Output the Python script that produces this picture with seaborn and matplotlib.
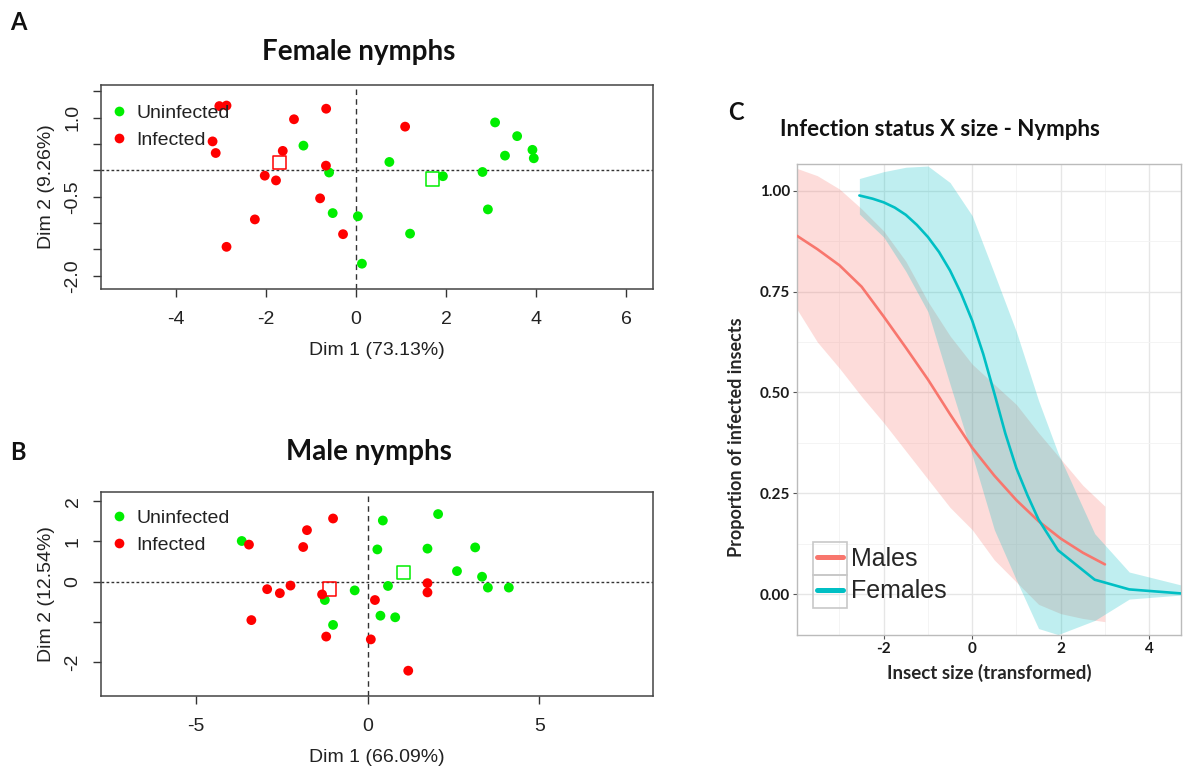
import numpy as np
import pandas as pd
import seaborn as sns
import matplotlib
matplotlib.use("Agg")
import matplotlib.pyplot as plt
from matplotlib.lines import Line2D
from matplotlib.patches import Rectangle
from matplotlib import font_manager as fm

# ---------------- DATA ----------------
# Panel A: Female nymphs PCA
fem_status = ["Uninfected"] * 15 + ["Infected"] * 15
fem_dim1 = [-1.17, -0.60, 0.74, -0.52, 0.04, 1.20, 0.13, 1.93, 2.81, 3.09, 3.58, 3.31, 3.92, 3.95, 2.93,
            -3.04, -2.88, -0.665, -1.38, 1.09, -3.19, -3.12, -1.63, -0.67, -2.03, -1.78, -0.80, -2.25, -0.29, -2.88]
fem_dim2 = [0.47, -0.04, 0.16, -0.81, -0.87, -1.20, -1.77, -0.11, -0.03, 0.91, 0.65, 0.28, 0.39, 0.23, -0.74,
            1.22, 1.23, 1.17, 0.97, 0.83, 0.55, 0.33, 0.37, 0.09, -0.10, -0.19, -0.53, -0.93, -1.21, -1.45]
fem_cent_status = ["Uninfected", "Infected"]
fem_cent_dim1 = [1.70, -1.70]
fem_cent_dim2 = [-0.16, 0.15]

# Panel B: Male nymphs PCA
male_status = ["Uninfected"] * 16 + ["Infected"] * 15
male_dim1 = [-3.67, 0.44, 2.05, 0.28, 1.74, 3.13, 2.60, 3.33, 3.50, 4.11, 0.59, -0.38, -1.25, 0.37, 0.80, -1.01,
             -1.01, -1.77, -3.46, -1.88, -2.93, -2.56, -2.25, -1.33, -3.39, -1.21, 0.21, 0.09, 1.18, 1.74, 1.74]
male_dim2 = [1.01, 1.52, 1.68, 0.80, 0.82, 0.85, 0.26, 0.12, -0.15, -0.15, -0.11, -0.22, -0.46, -0.85, -0.89, -1.08,
             1.57, 1.28, 0.92, 0.86, -0.19, -0.29, -0.10, -0.32, -0.96, -1.37, -0.46, -1.44, -2.22, -0.04, -0.27]
male_cent_status = ["Uninfected", "Infected"]
male_cent_dim1 = [1.04, -1.12]
male_cent_dim2 = [0.22, -0.19]

# Panel C: fitted infection probability vs size
males_x = [-3.96, -3.5, -3.0, -2.5, -2.0, -1.5, -1.0, -0.5, 0.0, 0.5, 1.0, 1.5, 2.0, 2.5, 3.0]
males_fit = [0.888, 0.855, 0.815, 0.762, 0.688, 0.611, 0.532, 0.446, 0.363, 0.294, 0.233, 0.181, 0.138, 0.103, 0.074]
males_hi = [1.055, 1.037, 1.004, 0.955, 0.900, 0.825, 0.725, 0.640, 0.570, 0.520, 0.470, 0.400, 0.335, 0.270, 0.218]
males_lo = [0.706, 0.625, 0.560, 0.490, 0.425, 0.355, 0.285, 0.215, 0.160, 0.085, 0.030, -0.025, -0.048, -0.060, -0.068]

females_x = [-2.55, -2.25, -2.0, -1.75, -1.5, -1.25, -1.0, -0.75, -0.5, -0.25, 0.0, 0.25, 0.5, 0.75,
             1.0, 1.25, 1.5, 1.94, 2.77, 3.55, 4.72]
females_fit = [0.988, 0.980, 0.971, 0.958, 0.940, 0.915, 0.885, 0.848, 0.802, 0.745, 0.678, 0.595, 0.498, 0.398,
               0.312, 0.245, 0.185, 0.109, 0.036, 0.012, 0.002]
females_band_x = [-2.55, -2.0, -1.5, -1.0, -0.5, 0.0, 0.5, 1.0, 1.5, 1.94, 2.77, 3.55, 4.72]
females_hi = [1.030, 1.047, 1.058, 1.061, 1.020, 0.938, 0.795, 0.650, 0.480, 0.350, 0.150, 0.055, 0.023]
females_lo = [0.942, 0.885, 0.800, 0.700, 0.520, 0.345, 0.160, 0.035, -0.085, -0.100, -0.065, -0.012, -0.002]

status_colors = {"Uninfected": "#00EE00", "Infected": "#FF0000"}
sex_colors = {"Males": "#F8766D", "Females": "#00BFC4"}

# ---------------- STYLE ----------------
sns.set_style("white")
plt.rcParams["axes.unicode_minus"] = False
names = {f.name for f in fm.fontManager.ttflist}
narrow = "Liberation Sans Narrow" if "Liberation Sans Narrow" in names else "Liberation Sans"
plt.rcParams["font.family"] = [narrow, "DejaVu Sans"]
BASE = 15 if narrow == "Liberation Sans Narrow" else 14

W, H = 1189, 778
fig = plt.figure(figsize=(W / 100, H / 100), dpi=100)


def fx(px):
    return px / W


def fy(py):
    return 1 - py / H


def axes_px(l, t, r, b):
    return fig.add_axes([fx(l), fy(b), fx(r - l), (b - t) / H])


def pca_panel(ax, d1, d2, status, c1, c2, cstat, xlim, ylim, xticks, yticks, ylabs, xlabel, ylabel, leg_top):
    df = pd.DataFrame({"Dim1": d1, "Dim2": d2, "status": status})
    ax.axhline(0, color="#333333", lw=1.0, ls=(0, (2, 1.6)), zorder=1)
    ax.axvline(0, color="#333333", lw=1.0, ls=(0, (4, 3)), zorder=1)
    sns.scatterplot(data=df, x="Dim1", y="Dim2", hue="status", palette=status_colors,
                    s=50, edgecolor="none", linewidth=0, legend=False, ax=ax, zorder=3)
    ax.scatter(c1, c2, marker="s", s=95, facecolors="none",
               edgecolors=[status_colors[s] for s in cstat], linewidths=1.1, zorder=4)
    ax.set_xlim(*xlim)
    ax.set_ylim(*ylim)
    ax.set_xticks(xticks)
    ax.set_xticklabels([f"{t:g}" for t in xticks])
    ax.set_yticks(yticks)
    ax.set_yticklabels(ylabs, rotation=90, va="center")
    ax.tick_params(axis="both", direction="out", length=6, width=1, color="#333333",
                   labelsize=BASE, labelcolor="#222222", bottom=True, left=True)
    ax.tick_params(axis="x", pad=10)
    ax.tick_params(axis="y", pad=8)
    ax.set_xlabel(xlabel, fontsize=BASE, color="#222222", labelpad=10)
    ax.set_ylabel(ylabel, fontsize=BASE, color="#222222", labelpad=7)
    for s in ax.spines.values():
        s.set_visible(True)
        s.set_color("#444444")
        s.set_linewidth(1.1)
    handles = [Line2D([], [], marker="o", ls="none", color=status_colors[k], markersize=7, markeredgewidth=0)
               for k in ["Uninfected", "Infected"]]
    fig.legend(handles, ["Uninfected", "Infected"], loc="upper left",
               bbox_to_anchor=(fx(111), fy(leg_top)), bbox_transform=fig.transFigure,
               frameon=False, fontsize=BASE, handlelength=0.8, handletextpad=0.5,
               labelspacing=0.5, borderpad=0, borderaxespad=0, labelcolor="#222222")


# ---- Panel A ----
axA = axes_px(101, 85, 653, 289)
pca_panel(axA, fem_dim1, fem_dim2, fem_status, fem_cent_dim1, fem_cent_dim2, fem_cent_status,
          (-5.67, 6.6), (-2.25, 1.62), [-4, -2, 0, 2, 4, 6],
          [-2.0, -1.5, -1.0, -0.5, 0.0, 0.5, 1.0, 1.5],
          ["-2.0", "", "", "-0.5", "", "", "1.0", ""],
          "Dim 1 (73.13%)", "Dim 2 (9.26%)", 104)

# ---- Panel B ----
axB = axes_px(101, 492, 653, 696)
pca_panel(axB, male_dim1, male_dim2, male_status, male_cent_dim1, male_cent_dim2, male_cent_status,
          (-7.77, 8.31), (-2.85, 2.23), [-5, 0, 5],
          [-2, -1, 0, 1, 2], ["-2", "", "0", "1", "2"],
          "Dim 1 (66.09%)", "Dim 2 (12.54%)", 509)

# ---- Panel C ----
axC = axes_px(797, 164, 1181, 635)
axC.set_axisbelow(True)
axC.fill_between(males_x, males_lo, males_hi, color=sex_colors["Males"], alpha=0.25, lw=0, zorder=2)
axC.fill_between(females_band_x, females_lo, females_hi, color=sex_colors["Females"], alpha=0.25, lw=0, zorder=2)
fits = pd.concat([
    pd.DataFrame({"size": males_x, "p": males_fit, "sex": "Males"}),
    pd.DataFrame({"size": females_x, "p": females_fit, "sex": "Females"}),
])
sns.lineplot(data=fits, x="size", y="p", hue="sex", palette=sex_colors, linewidth=1.9,
             estimator=None, sort=False, legend=False, ax=axC, zorder=3)
axC.set_xlim(-3.96, 4.72)
axC.set_ylim(-0.101, 1.066)
axC.set_xticks([-2, 0, 2, 4])
axC.set_xticks([-3, -1, 1, 3], minor=True)
axC.set_yticks([0, 0.25, 0.5, 0.75, 1.0])
axC.set_yticks([0.125, 0.375, 0.625, 0.875], minor=True)
axC.set_yticklabels(["0.00", "0.25", "0.50", "0.75", "1.00"])
axC.set_xticklabels(["-2", "0", "2", "4"])
axC.grid(which="major", color="#E6E6E6", lw=1.0)
axC.grid(which="minor", color="#F3F3F3", lw=0.6)
axC.tick_params(axis="both", which="major", direction="out", length=3, width=0.8, color="#555555",
                labelsize=11, pad=2, bottom=True, left=True)
axC.tick_params(axis="both", which="minor", length=0)
for lab in axC.get_xticklabels() + axC.get_yticklabels():
    lab.set_fontfamily(["Lato", "DejaVu Sans"])
    lab.set_fontweight("bold")
    lab.set_color("#1a1a1a")
for s in axC.spines.values():
    s.set_visible(True)
    s.set_color("#BBBBBB")
    s.set_linewidth(1.0)
axC.set_xlabel("Insect size (transformed)", fontsize=13.5, fontweight="bold",
               family=["Lato", "DejaVu Sans"], labelpad=6)
axC.set_ylabel("Proportion of infected insects", fontsize=13, fontweight="bold",
               family=["Lato", "DejaVu Sans"])
axC.yaxis.set_label_coords(-0.135, 0.42)
hC = [Line2D([], [], color=sex_colors[k], lw=3.6) for k in ["Males", "Females"]]
fig.legend(hC, ["Males", "Females"], loc="upper left", bbox_to_anchor=(fx(817), fy(547)),
           bbox_transform=fig.transFigure, frameon=False,
           handlelength=1.05, handletextpad=0.3, labelspacing=0.33, borderpad=0, borderaxespad=0,
           prop={"family": ["Liberation Sans", "DejaVu Sans"], "size": 18})
for top in (542, 575):
    fig.add_artist(Rectangle((fx(813), fy(top + 33)), fx(34), 33 / H, transform=fig.transFigure,
                             fill=False, edgecolor="#C8C8C8", lw=1.2))

# ---- Titles & panel letters ----
bold = dict(fontweight="bold", family=["Lato", "DejaVu Sans"], color="#111111")
fig.text(fx(18), fy(22), "A", fontsize=17, ha="center", va="center", **bold)
fig.text(fx(18), fy(452), "B", fontsize=17, ha="center", va="center", **bold)
fig.text(fx(736), fy(113), "C", fontsize=17, ha="center", va="center", **bold)
fig.text(fx(359), fy(52), "Female nymphs", fontsize=20, ha="center", va="center", **bold)
fig.text(fx(369), fy(452), "Male nymphs", fontsize=20, ha="center", va="center", **bold)
fig.text(fx(940), fy(129), "Infection status X size - Nymphs", fontsize=16, ha="center", va="center", **bold)

fig.savefig("out.png", dpi=100, facecolor="white")
